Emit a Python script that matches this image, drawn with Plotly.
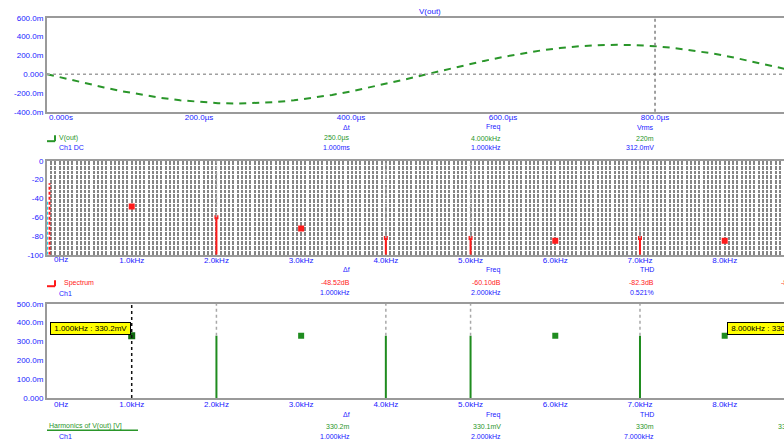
import plotly.graph_objects as go

W, H = 784, 448
LEFT = 47

# ---- time-domain trace: V(out), one 1 kHz period (ms, V) ----
t_ms = [0.000, 0.025, 0.050, 0.075, 0.100, 0.125, 0.150, 0.175, 0.200, 0.225,
        0.250, 0.275, 0.300, 0.325, 0.350, 0.375, 0.400, 0.425, 0.450, 0.475,
        0.500, 0.525, 0.550, 0.575, 0.600, 0.625, 0.650, 0.675, 0.700, 0.725,
        0.750, 0.775, 0.800, 0.825, 0.850, 0.875, 0.900, 0.925, 0.950, 0.975, 1.000]
v_out = [0.000, -0.049, -0.096, -0.141, -0.183, -0.221, -0.252, -0.278, -0.297, -0.308,
         -0.312, -0.308, -0.297, -0.278, -0.252, -0.221, -0.183, -0.141, -0.096, -0.049,
         0.000, 0.049, 0.096, 0.141, 0.183, 0.221, 0.252, 0.278, 0.297, 0.308,
         0.312, 0.308, 0.297, 0.278, 0.252, 0.221, 0.183, 0.141, 0.096, 0.049, 0.000]
time_cursor_ms = 0.8
t_ticks = [0.2, 0.4, 0.6, 0.8]
t_ticktext = ["200.0µs", "400.0µs", "600.0µs", "800.0µs"]
v_ticks = [-0.4, -0.2, 0.0, 0.2, 0.4, 0.6]
v_ticktext = ["-400.0m", "-200.0m", "0.000", "200.0m", "400.0m", "600.0m"]

# ---- spectrum (kHz, dB) ----
dc_db = -24
harm_khz = [1, 2, 3, 4, 5, 6, 7, 8]
harm_db = [-48.5, -60, -72, -82, -82, -85, -82, -85]
harm_stem = [False, True, False, True, True, False, True, False]
f_ticks = [1, 2, 3, 4, 5, 6, 7, 8]
f_ticktext = ["1.0kHz", "2.0kHz", "3.0kHz", "4.0kHz", "5.0kHz", "6.0kHz", "7.0kHz", "8.0kHz"]
db_ticks = [-100, -80, -60, -40, -20, 0]
db_ticktext = ["-100", "-80", "-60", "-40", "-20", "0"]

# ---- harmonic amplitudes (kHz, V) ----
amp_v = [0.330, 0.330, 0.330, 0.330, 0.330, 0.330, 0.330, 0.330]
freq_cursor_khz = 1
amp_ticks = [0.0, 0.1, 0.2, 0.3, 0.4, 0.5]
amp_ticktext = ["0.000", "100.0m", "200.0m", "300.0m", "400.0m", "500.0m"]

BLUE = "#1a1aff"
GREEN = "#2a962a"
RED = "#ff1a1a"
FRAME = "#9a9a9a"
FONT = "Liberation Sans, Arial, sans-serif"


def px_x(px):
    return (px - LEFT) / (W - LEFT)


def px_y(py):
    return 1 - py / H


fig = go.Figure()

# panel 1: waveform
fig.add_trace(go.Scatter(x=t_ms, y=v_out, mode="lines", xaxis="x", yaxis="y",
                         line=dict(color=GREEN, width=2, dash="7px,6px")))

# panel 2: spectrum stems + markers
stem_x, stem_y = [], []
for f, d, s in zip(harm_khz, harm_db, harm_stem):
    if s:
        stem_x += [f, f, None]
        stem_y += [-100, d, None]
fig.add_trace(go.Scatter(x=stem_x, y=stem_y, mode="lines", xaxis="x2", yaxis="y2",
                         line=dict(color=RED, width=2)))
fig.add_trace(go.Scatter(x=[f for f, s in zip(harm_khz, harm_stem) if s],
                         y=[d for d, s in zip(harm_db, harm_stem) if s],
                         mode="markers", xaxis="x2", yaxis="y2",
                         marker=dict(symbol="square", size=4, color=RED)))
fig.add_trace(go.Scatter(x=[f for f, s in zip(harm_khz, harm_stem) if not s],
                         y=[d for d, s in zip(harm_db, harm_stem) if not s],
                         mode="markers", xaxis="x2", yaxis="y2",
                         marker=dict(symbol="square", size=6, color=RED)))
# DC bin at the left edge
fig.add_trace(go.Scatter(x=[0.03, 0.03], y=[-100, dc_db], mode="lines", xaxis="x2", yaxis="y2",
                         line=dict(color=RED, width=2, dash="3px,2px")))
fig.add_trace(go.Scatter(x=[0.0, 0.0], y=[-100, -42], mode="lines", xaxis="x2", yaxis="y2",
                         line=dict(color="#22d8e8", width=2, dash="3px,2px")))

# panel 3: harmonic amplitudes
stem3_x, stem3_y = [], []
for f, a, s in zip(harm_khz, amp_v, harm_stem):
    if s:
        stem3_x += [f, f, None]
        stem3_y += [0, a, None]
fig.add_trace(go.Scatter(x=stem3_x, y=stem3_y, mode="lines", xaxis="x3", yaxis="y3",
                         line=dict(color="#1f8c1f", width=2)))
fig.add_trace(go.Scatter(x=[f for f, s in zip(harm_khz, harm_stem) if not s and f != freq_cursor_khz],
                         y=[a for f, a, s in zip(harm_khz, amp_v, harm_stem) if not s and f != freq_cursor_khz],
                         mode="markers", xaxis="x3", yaxis="y3",
                         marker=dict(symbol="square", size=6, color="#1f8c1f")))
fig.add_trace(go.Scatter(x=[freq_cursor_khz], y=[amp_v[harm_khz.index(freq_cursor_khz)]],
                         mode="markers", xaxis="x3", yaxis="y3",
                         marker=dict(symbol="square", size=7, color="#0f6a0f")))

shapes = []
# zero reference and time cursor on the waveform
shapes.append(dict(type="line", xref="x domain", yref="y", x0=0, x1=1, y0=0, y1=0,
                   line=dict(color="#a0a0a0", width=1.5, dash="dot")))
shapes.append(dict(type="line", xref="x", yref="y domain", x0=time_cursor_ms, x1=time_cursor_ms,
                   y0=0, y1=1, line=dict(color="#808080", width=1.5, dash="dot")))
# drop lines above the stems
for f, d, a, s in zip(harm_khz, harm_db, amp_v, harm_stem):
    if s:
        shapes.append(dict(type="line", xref="x2", yref="y2", x0=f, x1=f, y0=d, y1=0,
                           line=dict(color="#a8a8a8", width=1.5, dash="dot")))
        shapes.append(dict(type="line", xref="x3", yref="y3", x0=f, x1=f, y0=a, y1=0.5,
                           line=dict(color="#a8a8a8", width=1.5, dash="dot")))
# frequency cursor
shapes.append(dict(type="line", xref="x3", yref="y3 domain", x0=freq_cursor_khz, x1=freq_cursor_khz,
                   y0=0, y1=1, line=dict(color="#111111", width=1.5, dash="dot")))
# legend swatches
shapes.append(dict(type="line", xref="paper", yref="paper", x0=px_x(47), x1=px_x(55),
                   y0=px_y(140), y1=px_y(140), line=dict(color=GREEN, width=2)))
shapes.append(dict(type="line", xref="paper", yref="paper", x0=px_x(55), x1=px_x(55),
                   y0=px_y(140), y1=px_y(134), line=dict(color=GREEN, width=2)))
shapes.append(dict(type="line", xref="paper", yref="paper", x0=px_x(47), x1=px_x(55),
                   y0=px_y(288), y1=px_y(288), line=dict(color=RED, width=2)))
shapes.append(dict(type="line", xref="paper", yref="paper", x0=px_x(55), x1=px_x(55),
                   y0=px_y(288), y1=px_y(282), line=dict(color=RED, width=2)))
shapes.append(dict(type="line", xref="paper", yref="paper", x0=px_x(47), x1=px_x(138),
                   y0=px_y(435), y1=px_y(435), line=dict(color=GREEN, width=1.5)))

ann = []


def txt(px, py, s, color, anchor="left", size=7):
    ann.append(dict(xref="paper", yref="paper", x=px_x(px), y=px_y(py), text=s,
                    showarrow=False, xanchor=anchor, yanchor="middle",
                    font=dict(family=FONT, size=size, color=color)))


txt(430, 8, "V(out)", BLUE, "center", 8)
txt(47, 116, "0.000s", BLUE, size=8)
txt(61, 261, "0Hz", BLUE, "center", 8)
txt(61, 409, "0Hz", BLUE, "center", 8)

# waveform readouts
txt(57, 137, "V(out)", GREEN)
txt(57, 146, "Ch1 DC", BLUE)
for px, lab, g, b in zip([352, 503, 656], ["Δt", "Freq", "Vrms"],
                         ["250.0µs", "4.000kHz", "220m"],
                         ["1.000ms", "1.000kHz", "312.0mV"]):
    txt(px, 126, lab, BLUE, "right")
    txt(px, 137, g, GREEN, "right")
    txt(px, 146, b, BLUE, "right")

# spectrum readouts
txt(62, 285, "Spectrum", RED)
txt(57, 295, "Ch1", BLUE)
for px, lab, r, b in zip([352, 503, 656], ["Δf", "Freq", "THD"],
                         ["-48.52dB", "-60.10dB", "-82.3dB"],
                         ["1.000kHz", "2.000kHz", "0.521%"]):
    txt(px, 271, lab, BLUE, "right")
    txt(px, 284, r, RED, "right")
    txt(px, 294, b, BLUE, "right")
txt(808, 284, "-85.1dB", RED, "right")

# harmonic readouts
txt(47, 431, "Harmonics of V(out) [V]", GREEN)
txt(57, 441, "Ch1", BLUE)
for px, lab, g, b in zip([352, 503, 656], ["Δf", "Freq", "THD"],
                         ["330.2m", "330.1mV", "330m"],
                         ["1.000kHz", "2.000kHz", "7.000kHz"]):
    txt(px, 419, lab, BLUE, "right")
    txt(px, 431, g, GREEN, "right")
    txt(px, 441, b, BLUE, "right")
txt(808, 431, "330.1mV", GREEN, "right")

# cursor tags
for px, anchor, s in [(131, "right", " 1.000kHz : 330.2mV "), (727, "left", " 8.000kHz : 330.1mV ")]:
    ann.append(dict(xref="paper", yref="paper", x=px_x(px), y=px_y(331), text=s,
                    showarrow=False, xanchor=anchor, yanchor="middle",
                    bgcolor="#ffff00", bordercolor="#000000", borderwidth=1, borderpad=1,
                    font=dict(family=FONT, size=8, color="#000000")))

tickfont = dict(family=FONT, size=8, color=BLUE)
frame_x = dict(showline=True, mirror=True, linecolor=FRAME, linewidth=2, zeroline=False,
               ticks="", ticklen=0, ticklabelstandoff=-3, tickfont=tickfont,
               tickmode="array", fixedrange=True)
frame_y = dict(showline=True, mirror=False, linecolor=FRAME, linewidth=2, zeroline=False,
               ticks="", tickfont=tickfont, tickmode="array", showgrid=False)

fig.update_layout(
    width=W, height=H, autosize=False,
    margin=dict(l=LEFT, r=0, t=0, b=0),
    paper_bgcolor="white", plot_bgcolor="white",
    showlegend=False,
    xaxis=dict(frame_x, domain=[0, 1], anchor="y", range=[0, 0.9697],
               tickvals=t_ticks, ticktext=t_ticktext, showgrid=False),
    yaxis=dict(frame_y, domain=[px_y(110), px_y(14)], anchor="x", range=[-0.4, 0.6],
               tickvals=v_ticks, ticktext=v_ticktext),
    xaxis2=dict(frame_x, domain=[0, 1], anchor="y2", range=[0, 8.70],
                tickvals=f_ticks, ticktext=f_ticktext, showgrid=False,
                minor=dict(dtick=0.05, tick0=0, showgrid=True, gridcolor="#858585", gridwidth=2)),
    yaxis2=dict(frame_y, domain=[px_y(256), px_y(160)], anchor="x2", range=[-100, 0],
                tickvals=db_ticks, ticktext=db_ticktext,
                minor=dict(dtick=5, tick0=0, showgrid=True, gridcolor="#ffffff", gridwidth=1.2)),
    xaxis3=dict(frame_x, domain=[0, 1], anchor="y3", range=[0, 8.70],
                tickvals=f_ticks, ticktext=f_ticktext, showgrid=False),
    yaxis3=dict(frame_y, domain=[px_y(402), px_y(306)], anchor="x3", range=[0, 0.5],
                tickvals=amp_ticks, ticktext=amp_ticktext),
    shapes=shapes,
    annotations=ann,
)

fig.write_html("out.html")
